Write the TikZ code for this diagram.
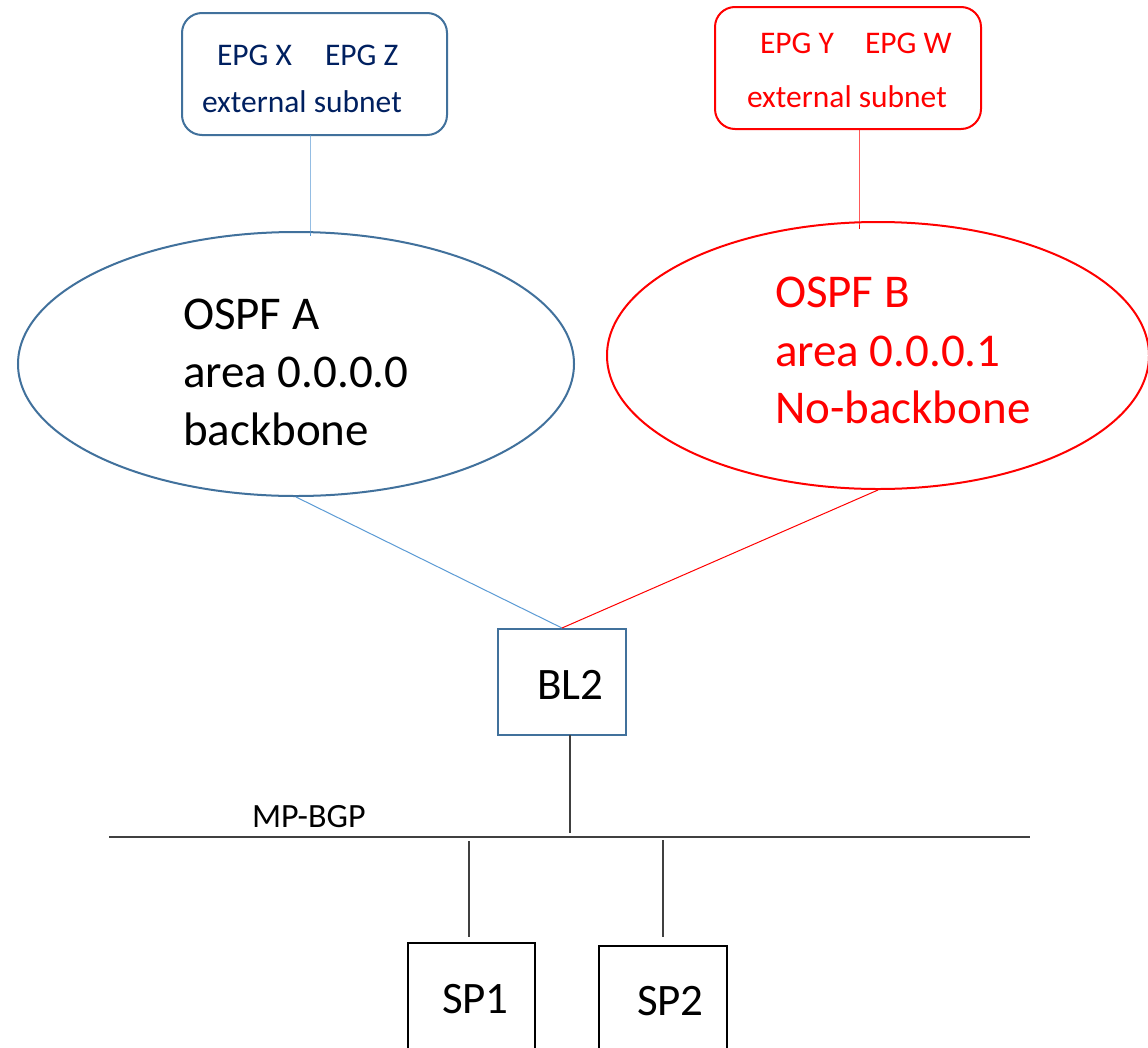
\documentclass[tikz,border=0pt]{standalone}
\usepackage{fontspec}
\setmainfont{Carlito}
\usetikzlibrary{shapes.geometric}
\definecolor{frameblue}{HTML}{41719C}
\definecolor{linkblue}{HTML}{5B9BD5}
\definecolor{navytext}{HTML}{002060}
\definecolor{pureRed}{HTML}{FF0000}
\definecolor{wire}{HTML}{404040}
\tikzset{
  txt/.style={anchor=base west, inner sep=0pt, outer sep=0pt},
  smalltxt/.style={txt, font=\fontsize{31.5bp}{38bp}\selectfont},
  bigtxt/.style={txt, font=\fontsize{47bp}{57bp}\selectfont},
  boxtxt/.style={txt, font=\fontsize{45bp}{54bp}\selectfont, text=black},
  subnetbox/.style={draw, line width=2bp, rounded corners=20bp, inner sep=0pt},
  areaellipse/.style={draw, ellipse, line width=2bp, inner sep=0pt},
  devbox/.style={draw, rectangle, line width=2bp, inner sep=0pt},
  thinlink/.style={line width=1bp},
}
\begin{document}
\begin{tikzpicture}[x=1bp,y=-1bp]
\clip (0,0) rectangle (1148,1048);
\fill[white] (0,0) rectangle (1148,1048);

% external subnet boxes
\node[subnetbox, frameblue, minimum width=265bp, minimum height=122bp] (boxA) at (314.5,74) {};
\node[subnetbox, pureRed, minimum width=266bp, minimum height=122bp] (boxB) at (848,68) {};

\node[smalltxt, text=navytext] (epgX) at (217,65) {EPG X};
\node[smalltxt, text=navytext] (epgZ) at (325,65) {EPG Z};
\node[smalltxt, text=navytext] (subA) at (202,112) {external subnet};

\node[smalltxt, text=pureRed] (epgY) at (760,53) {EPG Y};
\node[smalltxt, text=pureRed] (epgW) at (865,53) {EPG W};
\node[smalltxt, text=pureRed] (subB) at (747,107) {external subnet};

% OSPF areas
\node[areaellipse, frameblue, minimum width=556bp, minimum height=264bp] (ospfA) at (296,364) {};
\node[areaellipse, pureRed, minimum width=542bp, minimum height=267bp] (ospfB) at (878,355.5) {};

\node[bigtxt, text=black] (ospfA1) at (183,329) {OSPF A};
\node[bigtxt, text=black] (ospfA2) at (183,387) {area 0.0.0.0};
\node[bigtxt, text=black] (ospfA3) at (183,445) {backbone};

\node[bigtxt, text=pureRed] (ospfB1) at (775,307) {OSPF B};
\node[bigtxt, text=pureRed] (ospfB2) at (775,366) {area 0.0.0.1};
\node[bigtxt, text=pureRed] (ospfB3) at (775,423) {No-backbone};

% box to area links
\coordinate (tapA) at (310,135);
\coordinate (tapB) at (859,129);
\draw[thinlink, linkblue] (tapA) -- (tapA |- ospfA.north) -- ++(0,5);
\draw[thinlink, pureRed] (tapB) -- (tapB |- ospfB.north) -- ++(0,8);

% border leaf
\node[devbox, frameblue, minimum width=128bp, minimum height=106bp] (bl2) at (562,682) {};
\node[boxtxt] (bl2txt) at (537,699) {BL2};

\draw[thinlink, linkblue] (ospfA.south) -- (bl2.north);
\draw[thinlink, pureRed] (ospfB.south) -- (bl2.north);

% MP-BGP bus
\coordinate (busL) at (109,837);
\coordinate (busR) at (1030,837);
\draw[line width=1.3bp, wire] (busL) -- (busR);
\node[txt, text=black, font=\fontsize{34bp}{40bp}\selectfont] (bgp) at (252,827) {MP-BGP};

\coordinate (bl2tap) at (570,735);
\draw[line width=1.3bp, wire] (bl2tap) -- ([yshift=4bp]bl2tap |- busL);

% spines
\node[devbox, black, minimum width=127bp, minimum height=160bp] (sp1) at (471.5,1023) {};
\node[devbox, black, minimum width=128bp, minimum height=160bp] (sp2) at (663,1026) {};
\node[boxtxt] (sp1txt) at (442,1013) {SP1};
\node[boxtxt] (sp2txt) at (637,1015) {SP2};

\coordinate (sp1tap) at (469,841);
\coordinate (sp2tap) at (663,840);
\draw[line width=1.3bp, wire] (sp1tap) -- ([yshift=5bp]sp1tap |- sp1.north);
\draw[line width=1.3bp, wire] (sp2tap) -- ([yshift=8bp]sp2tap |- sp2.north);
\end{tikzpicture}
\end{document}
